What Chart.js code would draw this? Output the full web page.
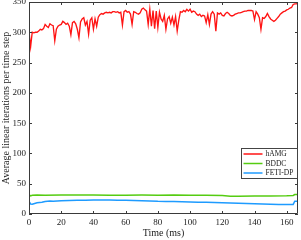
<!DOCTYPE html>
<html>
<head>
<meta charset="utf-8">
<script src="https://cdn.jsdelivr.net/npm/chart.js@4"></script>
<style>
html,body{margin:0;padding:0;background:#fff;}
#wrap{width:301px;height:240px;}
</style>
</head>
<body>
<div id="wrap"><canvas id="c" width="301" height="240"></canvas></div>
<script>
// ---- data ----
const seriesNames = ["hAMG", "BDDC", "FETI-DP"];
const xTicks = [0, 20, 40, 60, 80, 100, 120, 140, 160];
const yTicks = [0, 50, 100, 150, 200, 250, 300, 350];
const hamgStep = 1; // ms between hAMG samples
const hamgValues = [
301,276,300,299,300,300,302,305,304,306,
313,310,308,314,312,311,286,305,310,312,
313,318,316,313,315,310,296,316,318,314,
305,291,317,322,324,312,318,297,320,324,
305,322,310,325,329,331,330,332,333,332,
333,332,334,334,333,334,332,333,312,334,
336,333,334,330,313,334,333,331,330,332,
338,340,337,335,313,338,310,336,306,335,
308,333,322,318,328,305,322,326,315,325,
312,326,302,320,334,333,336,334,338,335,
338,333,335,334,330,328,330,326,328,327,
316,329,313,330,334,330,302,332,330,332,
328,327,331,333,331,328,327,328,330,331,
332,332,333,334,335,335,336,336,336,335,
321,334,330,324,305,324,323,326,331,326,
322,320,318,320,323,326,330,332,334,335,
337,338,340,341,346,347,347,348
];
const bddcTimes  = [0, 1, 2, 5, 10, 20, 30, 40, 50, 60, 70, 80, 90, 100, 110, 120, 125, 130, 140, 150, 160, 164, 165, 167];
const bddcValues = [32, 30, 31, 31.5, 31, 31.5, 31.5, 31.3, 31, 31, 31.2, 31, 31.2, 30.8, 31, 30.5, 29.5, 29.5, 29.6, 29.8, 30, 30.5, 32, 32];
const fetiTimes  = [0, 1, 2, 3, 5, 8, 10, 13, 15, 20, 25, 30, 35, 40, 45, 50, 55, 60, 65, 70, 75, 80, 85, 90, 95, 100, 105, 110, 115, 120, 125, 130, 135, 140, 145, 150, 155, 160, 164, 165, 167];
const fetiValues = [21, 16.5, 16, 17, 18.5, 19.5, 20.5, 21.5, 21, 22, 22.3, 22.5, 22.6, 23, 23.2, 23, 22.8, 22.5, 22.2, 21.8, 21.5, 21, 20.8, 20.5, 20.2, 19.8, 19.5, 19.2, 18.8, 18.5, 18.2, 17.8, 17.3, 17, 16.5, 16, 15.5, 15.5, 15.8, 21, 21];

// ---- build ----
const hamgPts = hamgValues.map((v, i) => ({x: i * hamgStep, y: v}));
const bddcPts = bddcTimes.map((t, i) => ({x: t, y: bddcValues[i]}));
const fetiPts = fetiTimes.map((t, i) => ({x: t, y: fetiValues[i]}));

const FONT = "'Liberation Serif', 'DejaVu Serif', serif";
const AXIS = '#3a3a3a';

const frame = {
  id: 'frame',
  afterDatasetsDraw(chart) {
    const {ctx, chartArea: a, scales} = chart;
    ctx.save();
    ctx.strokeStyle = AXIS;
    ctx.lineWidth = 1;
    ctx.beginPath();
    ctx.rect(Math.round(a.left) + 0.5, Math.round(a.top) + 0.5, Math.round(a.right - a.left) - 1, Math.round(a.bottom - a.top) - 1);
    const L = 3;
    xTicks.forEach(v => {
      const px = Math.round(scales.x.getPixelForValue(v)) + 0.5;
      ctx.moveTo(px, a.bottom); ctx.lineTo(px, a.bottom - L);
      ctx.moveTo(px, a.top); ctx.lineTo(px, a.top + L);
    });
    yTicks.forEach(v => {
      const py = Math.round(scales.y.getPixelForValue(v)) + 0.5;
      ctx.moveTo(a.left, py); ctx.lineTo(a.left + L, py);
      ctx.moveTo(a.right, py); ctx.lineTo(a.right - L, py);
    });
    ctx.stroke();

    // legend
    const bw = 56, bh = 30;
    const bx = Math.round(a.right) - bw - 0.5, by = 148.5;
    ctx.fillStyle = '#fff';
    ctx.fillRect(bx, by, bw, bh);
    ctx.strokeStyle = '#444';
    ctx.strokeRect(bx, by, bw, bh);
    ctx.font = "7.5px " + FONT;
    ctx.textBaseline = 'middle';
    chart.data.datasets.forEach((ds, i) => {
      const yy = by + 5.5 + i * 9.5;
      ctx.strokeStyle = ds.borderColor;
      ctx.lineWidth = 1.5;
      ctx.beginPath();
      ctx.moveTo(bx + 2, yy); ctx.lineTo(bx + 21, yy);
      ctx.stroke();
      ctx.fillStyle = '#222';
      ctx.fillText(ds.label, bx + 24, yy + 0.5);
    });
    ctx.restore();
  }
};

new Chart(document.getElementById('c'), {
  type: 'line',
  data: {
    datasets: [
      {label: seriesNames[0], data: hamgPts, borderColor: '#ff1414', borderWidth: 1.35},
      {label: seriesNames[1], data: bddcPts, borderColor: '#55cc11', borderWidth: 1.5},
      {label: seriesNames[2], data: fetiPts, borderColor: '#1e9bff', borderWidth: 1.5}
    ]
  },
  options: {
    responsive: false,
    animation: false,
    devicePixelRatio: 1,
    layout: {autoPadding: false, padding: {left: 0, right: 3, top: 2, bottom: 0}},
    elements: {point: {radius: 0}, line: {tension: 0}},
    plugins: {legend: {display: false}, tooltip: {enabled: false}},
    scales: {
      x: {
        type: 'linear', min: 0, max: 167,
        afterFit: s => { s.height = 26; s.paddingLeft = 0; s.paddingRight = 0; },
        afterBuildTicks: s => { s.ticks = xTicks.map(v => ({value: v})); },
        ticks: {font: {family: FONT, size: 9}, color: '#222', padding: 3, maxRotation: 0, autoSkip: false},
        grid: {display: false, drawTicks: false},
        border: {display: false},
        title: {display: true, text: 'Time (ms)', font: {family: FONT, size: 10}, color: '#222', padding: {top: 0, bottom: 1}}
      },
      y: {
        type: 'linear', min: 0, max: 350,
        afterFit: s => { s.width = 29; s.paddingTop = 0; s.paddingBottom = 0; },
        afterBuildTicks: s => { s.ticks = yTicks.map(v => ({value: v})); },
        ticks: {font: {family: FONT, size: 9}, color: '#222', padding: 3, autoSkip: false},
        grid: {display: false, drawTicks: false},
        border: {display: false},
        title: {display: true, text: 'Average linear iterations per time step', font: {family: FONT, size: 10}, color: '#222', padding: {top: 0, bottom: 0}}
      }
    }
  },
  plugins: [frame]
});
</script>
</body>
</html>
